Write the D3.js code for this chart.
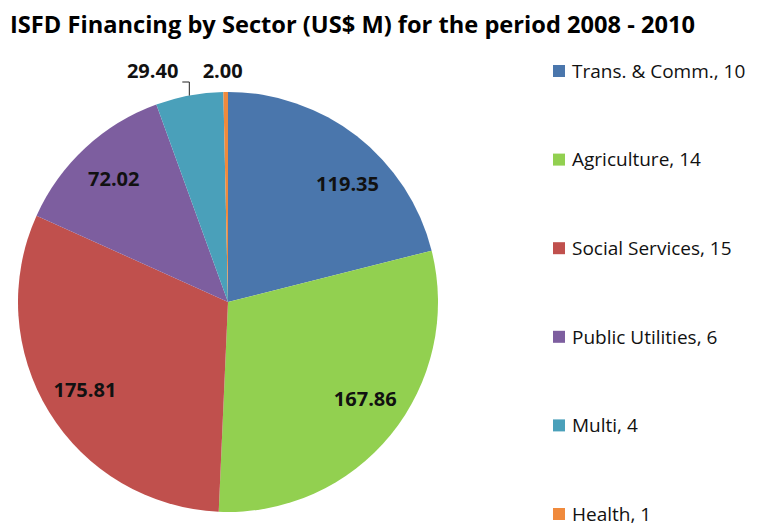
<!DOCTYPE html>
<html>
<head>
<meta charset="utf-8">
<script src="https://cdn.jsdelivr.net/npm/d3@7"></script>
<style>
  body { margin: 0; background: #fff; }
  svg { display: block; }
</style>
</head>
<body>
<div id="chart"></div>
<script>
// Sector data (US$ M) and number of projects
const sectors = ["Trans. & Comm.", "Agriculture", "Social Services", "Public Utilities", "Multi", "Health"];
const amounts = [119.35, 167.86, 175.81, 72.02, 29.40, 2.00];
const projects = [10, 14, 15, 6, 4, 1];
const colors = ["#4A76AC", "#92D050", "#C0504D", "#7D5E9F", "#4AA0BA", "#F08A3C"];

const width = 765, height = 523;
const cx = 228, cy = 302, radius = 210;

const svg = d3.select("#chart")
    .append("svg")
    .attr("width", width)
    .attr("height", height);

// Title
svg.append("text")
    .attr("x", 10)
    .attr("y", 33)
    .attr("textLength", 685)
    .attr("lengthAdjust", "spacingAndGlyphs")
    .style("font-family", "'Open Sans', sans-serif")
    .style("font-weight", "bold")
    .style("font-size", "23px")
    .style("fill", "#000")
    .text("ISFD Financing by Sector (US$ M) for the period 2008 - 2010");

const data = sectors.map((s, i) => ({ name: s, value: amounts[i], count: projects[i], color: colors[i] }));

const pie = d3.pie()
    .sort(null)
    .value(d => d.value);

const arcs = pie(data);

const arc = d3.arc()
    .innerRadius(0)
    .outerRadius(radius);

const pieGroup = svg.append("g")
    .attr("transform", `translate(${cx},${cy})`);

pieGroup.selectAll("path")
    .data(arcs)
    .enter()
    .append("path")
    .attr("d", arc)
    .style("fill", d => d.data.color);

// Labels inside the big slices, outside for the thin ones
const labelStyle = sel => sel
    .style("font-family", "'Open Sans', sans-serif")
    .style("font-weight", "bold")
    .style("font-size", "20px")
    .style("fill", "#111");

// Excel "best fit" pushes a couple of labels off the middle angle a little
const angleNudge = { "Trans. & Comm.": 0.13, "Agriculture": -0.07 };

arcs.forEach(d => {
    const mid = (d.startAngle + d.endAngle) / 2 + (angleNudge[d.data.name] || 0);
    const label = d.data.value.toFixed(2);
    if (d.endAngle - d.startAngle > 0.5) {
        const r = radius * 0.8;
        pieGroup.append("text")
            .attr("x", r * Math.sin(mid))
            .attr("y", -r * Math.cos(mid))
            .attr("dy", "0.36em")
            .attr("text-anchor", "middle")
            .call(labelStyle)
            .text(label);
    } else if (d.endAngle - d.startAngle > 0.1) {
        // leader line from the rim up and left to the label
        const x0 = radius * Math.sin(mid), y0 = -radius * Math.cos(mid);
        const yl = -radius - 10;
        pieGroup.append("path")
            .attr("d", `M${x0},${y0}L${x0},${yl}L${x0 - 7},${yl}`)
            .style("fill", "none")
            .style("stroke", "#222")
            .style("stroke-width", 1);
        pieGroup.append("text")
            .attr("x", x0 - 11)
            .attr("y", yl - 11)
            .attr("dy", "0.36em")
            .attr("text-anchor", "end")
            .call(labelStyle)
            .text(label);
    } else {
        pieGroup.append("text")
            .attr("x", radius * Math.sin(mid) - 3)
            .attr("y", -radius - 21)
            .attr("dy", "0.36em")
            .attr("text-anchor", "middle")
            .call(labelStyle)
            .text(label);
    }
});

// Legend
const legendY = d3.scaleLinear()
    .domain([0, data.length - 1])
    .range([71, 514]);

const legend = svg.append("g")
    .selectAll("g")
    .data(data)
    .enter()
    .append("g")
    .attr("transform", (d, i) => `translate(553,${legendY(i)})`);

legend.append("rect")
    .attr("x", 0)
    .attr("y", -6)
    .attr("width", 12)
    .attr("height", 12)
    .style("fill", d => d.color);

legend.append("text")
    .attr("x", 19)
    .attr("y", 0)
    .attr("dy", "0.36em")
    .style("font-family", "'Open Sans', sans-serif")
    .style("font-size", "19px")
    .style("fill", "#111")
    .text(d => `${d.name}, ${d.count}`);
</script>
</body>
</html>
